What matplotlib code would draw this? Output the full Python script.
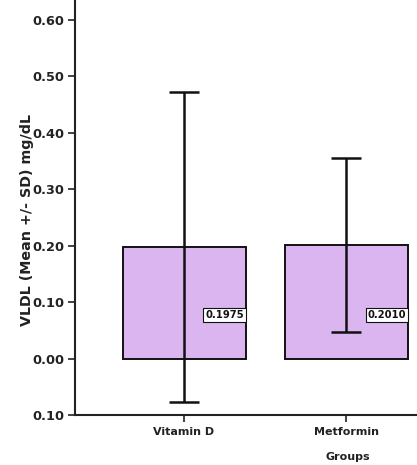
import matplotlib
matplotlib.use("Agg")
import matplotlib.pyplot as plt
import numpy as np

# Group means and standard deviations of VLDL
groups = ["Vitamin D", "Metformin"]
means = [0.1975, 0.2010]
sds = [0.275, 0.154]
value_labels = ["0.1975", "0.2010"]
y_ticks = [-0.10, 0.00, 0.10, 0.20, 0.30, 0.40, 0.50, 0.60]
y_tick_labels = ["0.10", "0.00", "0.10", "0.20", "0.30", "0.40", "0.50", "0.60"]

plt.rcParams["font.family"] = ["DejaVu Sans"]
fig = plt.figure(figsize=(4.17, 4.65), dpi=100)
ax = fig.add_axes([0.1799, 0.1075, 0.8201, 0.8925])

x = np.arange(len(groups))
bar_w = 0.757
ax.bar(x, means, width=bar_w, color="#DBB5F0", edgecolor="#111111",
       linewidth=1.4, zorder=2)
ax.errorbar(x, means, yerr=sds, fmt="none", ecolor="#111111",
            elinewidth=1.8, capsize=10.5, capthick=1.8, zorder=3)

for xi, lab in zip(x, value_labels):
    ax.text(xi + bar_w / 2 - 0.01, 0.077, lab, ha="right", va="center",
            fontsize=7.2, fontweight="bold", color="#111111", zorder=4,
            bbox=dict(boxstyle="square,pad=0.2", facecolor="white",
                      edgecolor="#111111", linewidth=0.8))

ax.set_xlim(-0.671, 1.434)
ax.set_ylim(-0.10, 0.635)
ax.set_xticks(x)
ax.set_xticklabels(groups, fontsize=8, fontweight="bold", color="#222222")
ax.set_yticks(y_ticks)
ax.set_yticklabels(y_tick_labels, fontsize=9.3, fontweight="bold", color="#222222")
ax.tick_params(axis="both", direction="out", length=5, width=1.2, color="#222222")
ax.tick_params(axis="y", pad=2.5)

for side in ("top", "right"):
    ax.spines[side].set_visible(False)
for side in ("left", "bottom"):
    ax.spines[side].set_linewidth(1.5)
    ax.spines[side].set_color("#222222")

ax.set_ylabel("VLDL (Mean +/- SD) mg/dL", fontsize=10.3, fontweight="bold",
              color="#222222")
ax.yaxis.set_label_coords(-0.12, 0.47)
ax.set_xlabel("Groups", fontsize=8, fontweight="bold", color="#222222")
ax.xaxis.set_label_coords(0.798, -0.09)

fig.savefig("out.png", dpi=100)
